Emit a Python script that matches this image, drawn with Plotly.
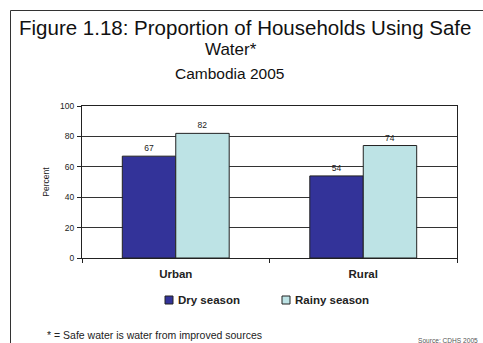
import plotly.graph_objects as go

categories = ["Urban", "Rural"]
series_names = ["Dry season", "Rainy season"]
dry_values = [67, 54]
rainy_values = [82, 74]
y_ticks = [0, 20, 40, 60, 80, 100]

W, H = 483, 343
L, R, T, B = 82, 457, 106, 258


def px(x):
    return (x - L) / (R - L)


def py(y):
    return (B - y) / (B - T)


colors = ["#333399", "#BDE3E5"]
FONT = "Liberation Sans, Arial, sans-serif"

fig = go.Figure()
for name, vals, col in zip(series_names, [dry_values, rainy_values], colors):
    fig.add_trace(go.Bar(
        x=categories, y=vals, name=name,
        marker=dict(color=col, line=dict(color="#222222", width=1)),
        text=[str(v) for v in vals], textposition="outside",
        textfont=dict(size=8.5, color="#222222", family=FONT),
        cliponaxis=False, showlegend=False,
    ))


def ann(text, x, y, xanchor, size, color="#111111"):
    return dict(text=text, x=px(x), y=py(y), xref="paper", yref="paper", showarrow=False,
                xanchor=xanchor, yanchor="middle", font=dict(size=size, color=color))


annotations = [
    ann("Figure 1.18: Proportion of Households Using Safe", 17, 27, "left", 20.5),
    ann("Water*", 231, 49.5, "center", 17),
    ann("Cambodia 2005", 229, 73.5, "center", 15.5),
    ann("* = Safe water is water from improved sources", 45, 335, "left", 10.5, "#222222"),
    ann("Source: CDHS 2005", 416, 340, "left", 6.6, "#555555"),
]
shapes = [
    dict(type="line", xref="paper", yref="paper", x0=px(10.5), x1=px(483), y0=py(10.5), y1=py(10.5),
         line=dict(color="#333333", width=1)),
    dict(type="line", xref="paper", yref="paper", x0=px(10.5), x1=px(10.5), y0=py(10.5), y1=py(343),
         line=dict(color="#333333", width=1)),
]
# legend built from the series names/colours
leg_x = [165, 282]
for name, col, lx in zip(series_names, colors, leg_x):
    shapes.append(dict(type="rect", xref="paper", yref="paper", x0=px(lx), x1=px(lx + 8),
                       y0=py(304), y1=py(296), fillcolor=col, line=dict(color="#222222", width=1)))
    annotations.append(ann("<b>%s</b>" % name, lx + 10.5, 300, "left", 11.5, "#222222"))

fig.update_layout(
    width=W, height=H,
    margin=dict(l=L, r=W - R, t=T, b=H - B),
    paper_bgcolor="white", plot_bgcolor="white",
    font=dict(family=FONT, color="#222222"),
    barmode="group", bargap=0.43, bargroupgap=0,
    showlegend=False,
    annotations=annotations, shapes=shapes,
    xaxis=dict(
        type="category", showline=True, linecolor="#222222", linewidth=1, mirror=True,
        ticks="outside", tickson="boundaries", ticklen=4, tickcolor="#222222",
        tickfont=dict(size=11.5, color="#222222"), ticklabelstandoff=5,
        tickvals=categories, ticktext=["<b>%s</b>" % c for c in categories],
        showgrid=False,
    ),
    yaxis=dict(
        range=[0, 100], tickvals=y_ticks, showline=True, linecolor="#222222", linewidth=1,
        mirror=True, ticks="outside", ticklen=4, tickcolor="#222222",
        tickfont=dict(size=8.5, color="#222222"), ticklabelstandoff=1,
        showgrid=True, gridcolor="#333333", gridwidth=1, zeroline=False,
        title=dict(text="Percent", font=dict(size=8.5, color="#222222"), standoff=9),
    ),
)

fig.write_html("out.html")
